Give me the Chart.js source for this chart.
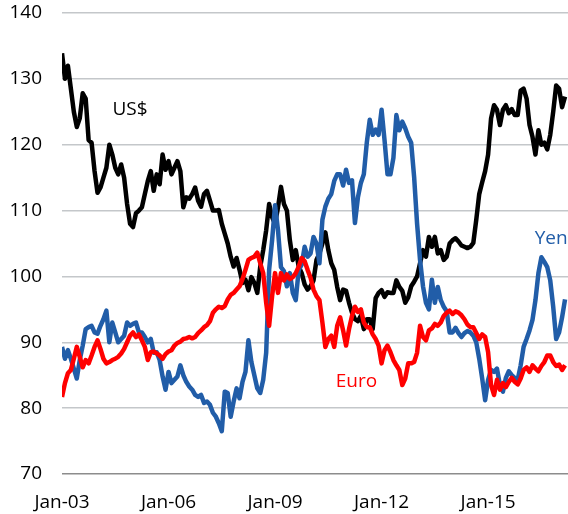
<!DOCTYPE html>
<html>
<head>
<meta charset="utf-8">
<script src="https://cdn.jsdelivr.net/npm/chart.js"></script>
<style>
  body { margin: 0; background: #fff; }
  #fxChart { display: block; }
</style>
</head>
<body>
<canvas id="fxChart" width="568" height="514"></canvas>
<script>
// monthly index values, Jan-03 .. Mar-17
const startYear = 2003;

const usd = [
  133.9,130,132,128.5,125,122.7,124,127.8,127,120.7,
  120.3,116,112.7,113.5,115,116.5,120,118.5,116.5,115.5,
  117,115,111,108,107.5,109.6,110,110.5,112.5,114.5,
  116,113,115.5,114,118.5,116.2,117.5,115.5,116.5,117.5,
  116,110.5,112,111.8,112.5,113.5,111.5,110.6,112.5,113,
  111.5,110,110,110.1,108,106.5,105,103,101.5,102.8,
  101,99,99.5,97.9,99.9,99,97.5,101.5,104,107,
  111,109,108,110.5,113.6,111,110,105.5,102.5,104,
  101.5,100.5,98.8,98,98.5,99.4,102.5,103.5,105,106.7,
  104,102,101,98.4,96.4,98,97.8,96,94.5,93.5,
  93.2,94,92,93.5,93.5,92,96.7,97.5,97.9,96.9,
  97.6,97.5,97.5,99.4,98.4,97.8,96,96.8,98.5,99.2,
  100,102,104,103,106,104.5,106,103.5,104,102.5,
  103,105,105.5,105.8,105.3,104.7,104.5,104.3,104.5,105.1,
  108.6,112.5,114.3,116,118.5,124,126,125.3,123,125.3,
  126,124.8,125.4,124.5,124.5,128.2,128.5,127,123,121.2,
  118.5,122.2,120,120.3,119.3,121.5,125,129,128.5,125.7,
  127.3
];

const euro = [
  81.7,83.8,85.3,85.8,87.5,89.3,87.8,86.2,87.3,86.8,
  88,89.3,90.3,89,87.5,86.8,87,87.3,87.5,87.8,
  88.3,89,90,91,91.5,90.8,91.2,90.3,89.3,87.3,
  88.5,88.6,88.3,88,87.5,88.2,88.6,88.8,89.5,89.9,
  90.1,90.5,90.6,90.8,90.6,90.8,91.4,91.8,92.3,92.6,
  93.2,94.5,95,95.4,95.2,95.5,96.5,97.2,97.5,98,
  98.5,99.6,101,102.5,102.8,103,103.6,102,100.5,96,
  92.5,97,100.5,97.5,100.5,99.4,100.3,99.6,99.9,100.5,
  101.5,102.8,102.3,101,99.8,98,97,96.4,93,89.3,
  90.5,91,89.3,92.5,93.8,91.8,89.5,92,94,95.4,
  94.6,95,93,92.3,92.3,91.2,90.5,89.5,86.8,88.8,
  89.5,88.5,87.3,86.5,85.8,83.5,84.5,86.8,86.8,87,
  88.4,92.5,90.8,90.3,91.8,92.1,92.8,92.5,93,94,
  94.5,94.8,94.3,94.7,94.5,94.1,93.5,92.7,92.3,92.3,
  91.4,90.5,91.2,90.8,88.5,83.5,82,84.3,82.8,83.8,
  83.2,84,84.6,84,83.6,84.5,85.8,86.2,85.5,86.5,
  86,85.6,86.4,87,88,88,87,86.4,86.6,85.8,
  86.5
];

const yen = [
  89.3,87.5,88.8,87.5,86,84.5,87.3,89.5,92,92.3,
  92.5,91.5,91.3,92.5,93.5,94.8,90,93,91.5,90,
  90.5,91,93,92.5,92.8,93,91.5,91.5,90.8,90,
  90.5,88.4,88.5,87.3,84.8,82.8,85.5,83.8,84.3,84.8,
  86.5,85,84,83.3,82.8,82,81.7,82,80.8,81,
  80.5,79.3,78.7,77.7,76.5,82.5,82.3,78.7,81,83,
  81.5,84,85.5,90.3,87,85,83,82.3,84.3,88.4,
  101,105.5,110.8,107,101.4,100.8,98.5,100.5,97.5,96.4,
  101,101.8,104.5,103,103.5,106,105,102,108.6,110.6,
  111.8,112.5,114.5,115.5,115.5,113.8,116.2,114.2,114.6,108.1,
  112,114.2,115.5,120.3,123.8,121.5,122.3,121.5,125.3,120.7,
  115.5,115.5,118,124.5,122.2,123.5,122.5,121.2,120.3,115.1,
  108,102.5,98.5,96,95,99.5,96,98.4,96.4,95.4,
  94.7,91.5,91.5,92.2,91.4,90.8,91.4,91.7,91.5,91,
  90,87.5,84.5,81.2,84.3,85.8,85.5,86,83.5,82.5,
  84.6,85.6,85,84.6,84.3,86.5,89.3,90.5,91.8,93.4,
  96.4,100.5,102.9,102.2,101.4,99.4,95.4,90.5,91.5,93.8,
  96.5
];

const xTickMonths = [0, 36, 72, 108, 144];
const xTickLabels = ['Jan-03', 'Jan-06', 'Jan-09', 'Jan-12', 'Jan-15'];
const yTicks = [70, 80, 90, 100, 110, 120, 130, 140];

const BLUE = '#215DA8';
const tickFont = { family: '"Open Sans", sans-serif', size: 19 };

function toPoints(arr) {
  return arr.map((v, i) => ({ x: i, y: v }));
}

// in-chart series names
const nameTags = [
  { text: 'US$', month: 23, value: 125.3, color: '#000000' },
  { text: 'Euro', month: 99.5, value: 84, color: '#FF0000' },
  { text: 'Yen', month: 165.3, value: 105.8, color: BLUE }
];

const nameTagPlugin = {
  id: 'nameTags',
  afterDatasetsDraw(chart) {
    const c = chart.ctx;
    const xs = chart.scales.x, ys = chart.scales.y;
    c.save();
    c.font = '19px "Open Sans", sans-serif';
    c.textAlign = 'center';
    c.textBaseline = 'middle';
    nameTags.forEach(t => {
      c.fillStyle = t.color;
      c.fillText(t.text, xs.getPixelForValue(t.month), ys.getPixelForValue(t.value));
    });
    c.restore();
  }
};

const ctx = document.getElementById('fxChart').getContext('2d');
const fxChart = new Chart(ctx, {
  type: 'line',
  data: {
    datasets: [
      { label: 'Euro', data: toPoints(euro), borderColor: '#FF0000', borderWidth: 4.5 },
      { label: 'Yen', data: toPoints(yen), borderColor: BLUE, borderWidth: 4.5 },
      { label: 'US$', data: toPoints(usd), borderColor: '#000000', borderWidth: 4.5 }
    ]
  },
  options: {
    responsive: false,
    animation: false,
    elements: { point: { radius: 0 }, line: { tension: 0, borderJoinStyle: 'round' } },
    layout: { padding: { top: 13, right: 0, bottom: 0, left: 0 } },
    plugins: { legend: { display: false }, tooltip: { enabled: false } },
    scales: {
      x: {
        type: 'linear',
        min: 0,
        max: 171,
        afterBuildTicks: s => { s.ticks = xTickMonths.map(v => ({ value: v })); },
        afterFit: s => { s.height = 40; s.paddingLeft = 0; s.paddingRight = 0; },
        grid: { display: false, drawTicks: false },
        border: { display: false },
        ticks: {
          padding: 17,
          color: '#000',
          font: tickFont,
          maxRotation: 0,
          autoSkip: false,
          callback: v => xTickLabels[xTickMonths.indexOf(v)]
        }
      },
      y: {
        min: 70,
        max: 140,
        afterBuildTicks: s => { s.ticks = yTicks.map(v => ({ value: v })); },
        afterFit: s => { s.width = 62; s.paddingTop = 0; s.paddingBottom = 0; },
        grid: {
          drawTicks: false,
          color: c => c.tick && c.tick.value === 70 ? '#8c8c8c' : '#c4c7ca',
          lineWidth: 1.5
        },
        border: { display: false },
        ticks: { padding: 20, color: '#000', font: tickFont }
      }
    }
  },
  plugins: [nameTagPlugin]
});
</script>
</body>
</html>
